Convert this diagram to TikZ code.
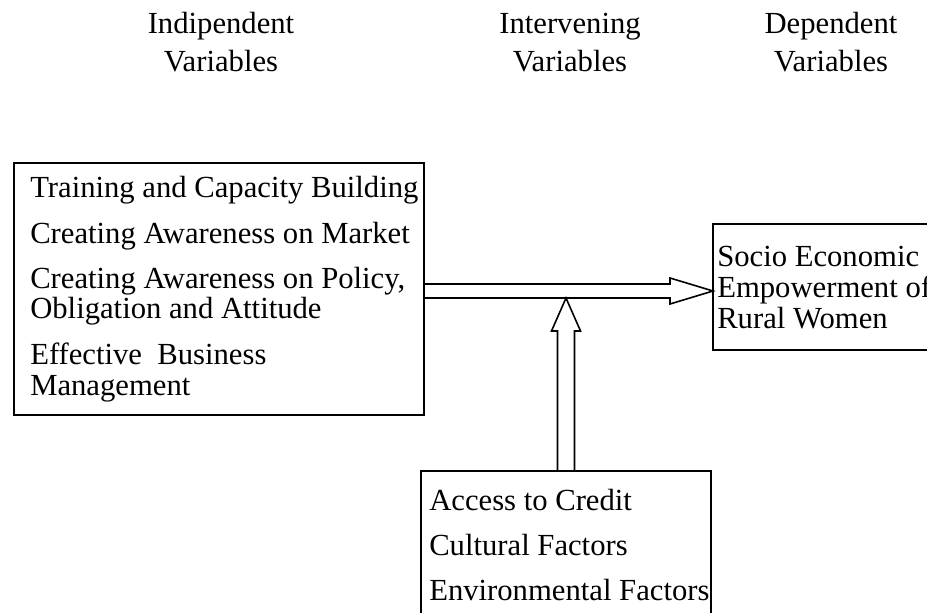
\documentclass[tikz,border=0pt]{standalone}
\usepackage{fontspec}
\setmainfont{Liberation Serif}
\usepackage{tikz}
\usetikzlibrary{calc}

\tikzset{
    varbox/.style={draw, line width=1.2pt, inner sep=0pt, outer sep=0pt},
    hollow/.style={line width=1.2pt, line join=miter},
    lbl/.style={anchor=base west, inner sep=0pt, font=\fontsize{23}{27}\selectfont},
    hdr/.style={anchor=base, inner sep=0pt, font=\fontsize{23}{27}\selectfont}
}

\begin{document}
\begin{tikzpicture}[x=0.75pt,y=0.75pt,yscale=-1,xscale=1]
        \useasboundingbox (0,0) rectangle (927,613);

        \node[hdr] (indhead1) at (221,34) {Indipendent};
        \node[hdr] (indhead2) at (221,72) {Variables};
        \node[hdr] (inthead1) at (570,34) {Intervening};
        \node[hdr] (inthead2) at (570,72) {Variables};
        \node[hdr] (dephead1) at (831,34) {Dependent};
        \node[hdr] (dephead2) at (831,72) {Variables};

        \node[varbox, minimum width=307.5pt, minimum height=189pt] (indep) at (219,289) {};
        \node[varbox, minimum width=170.25pt, minimum height=94.5pt] (dep) at (826.5,287) {};
        \node[varbox, minimum width=217.5pt, minimum height=115.5pt] (interv) at (566,548) {};

        \node[lbl] (ind1) at (30,197) {Training and Capacity Building};
        \node[lbl] (ind2) at (30,243) {Creating Awareness on Market};
        \node[lbl] (ind3) at (30,288) {Creating Awareness on Policy,};
        \node[lbl] (ind4) at (30,318) {Obligation and Attitude};
        \node[lbl] (ind5) at (30,364) {Effective\ \ Business};
        \node[lbl] (ind6) at (30,395) {Management};

        \node[lbl] (dep1) at (717,266) {Socio Economic};
        \node[lbl] (dep2) at (717,297) {Empowerment of};
        \node[lbl] (dep3) at (717,328) {Rural Women};

        \node[lbl] (int1) at (429,510) {Access to Credit};
        \node[lbl] (int2) at (429,555) {Cultural Factors};
        \node[lbl] (int3) at (429,600) {Environmental Factors};

        \coordinate (harr) at ($(indep.east)+(0,2)$);
        \coordinate (hlow) at ($(harr)+(0,7)$);
        \draw[hollow] ($(harr)+(0,-7)$) -- ($(harr -| dep.west)+(-43,-7)$) -- ++(0,-6) -- (harr -| dep.west) -- ($(harr -| dep.west)+(-43,13)$) -- ++(0,-6) -- (hlow);
        \draw[hollow] ($(interv.north)+(-8.5,0)$) -- ($(interv.north |- hlow)+(-8.5,33)$) -- ++(-6,0) -- (interv.north |- hlow) -- ($(interv.north |- hlow)+(14.5,33)$) -- ++(-6,0) -- ($(interv.north)+(8.5,0)$);
\end{tikzpicture}
\end{document}
